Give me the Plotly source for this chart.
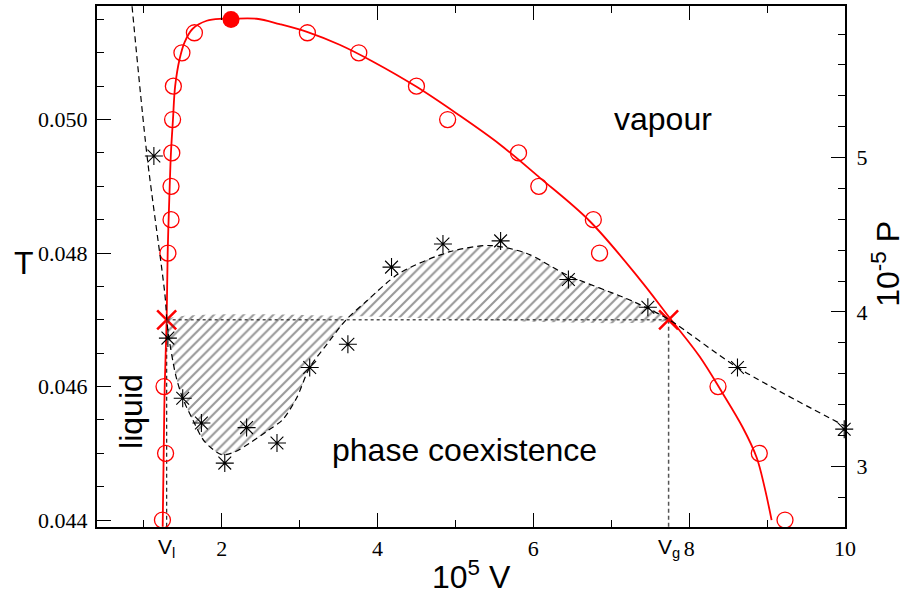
import plotly.graph_objects as go

# ---- data -------------------------------------------------------------
# simulated coexistence points (open circles): temperature levels and the
# liquid / vapour volumes found at each level
T_levels = [0.044, 0.045, 0.046, 0.048, 0.0485, 0.049, 0.0495, 0.050, 0.0505, 0.051, 0.0513]
V_liquid = [1.24, 1.28, 1.26, 1.31, 1.35, 1.35, 1.36, 1.37, 1.38, 1.49, 1.65]
V_vapour = [9.23, 8.90, 8.37, 6.85, 6.77, 6.07, 5.81, 4.90, 4.50, 3.76, 3.10]

# critical point
V_crit = [2.12]
T_crit = [0.0515]

# fitted coexistence curve (solid red line)
fit_V = [1.243, 1.256, 1.269, 1.294, 1.307, 1.333, 1.349, 1.375, 1.403, 1.461, 1.525,
         1.628, 1.808, 2.0, 2.115, 2.449, 2.744, 3.104, 3.514, 3.938, 4.502, 5.016,
         5.567, 6.081, 6.722, 7.364, 7.749, 8.134, 8.429, 8.686, 8.865, 8.968, 9.058]
fit_T = [0.0439, 0.0450, 0.0460, 0.0470, 0.0480, 0.0490, 0.0495, 0.0500, 0.0505, 0.05091, 0.05116,
         0.05136, 0.05148, 0.05151, 0.05151, 0.05151, 0.05143, 0.05131, 0.05112, 0.05087, 0.05049, 0.05009,
         0.04963, 0.04913, 0.04848, 0.04761, 0.04703, 0.04645, 0.04590, 0.04539, 0.04494, 0.04449, 0.04400]

# isotherm pressures (asterisks) on the 10^-5 P axis
iso_V = [1.13, 1.31, 1.50, 1.74, 2.04, 2.32, 2.71, 3.13, 3.62, 4.18, 4.84, 5.58, 6.45, 7.47, 8.62, 9.99]
iso_P = [5.01, 3.83, 3.44, 3.28, 3.02, 3.25, 3.15, 3.64, 3.79, 4.29, 4.44, 4.46, 4.21, 4.03, 3.64, 3.24]

# smooth isotherm (dashed black curve)
curve_V = [0.85, 1.04, 1.27, 1.31, 1.41, 1.50, 1.63, 1.78, 2.00, 2.18, 2.36, 2.59, 2.78, 2.96,
           3.13, 3.35, 3.60, 3.86, 4.28, 4.93, 5.44, 5.91, 6.43, 7.27, 7.74, 8.62, 10.0]
curve_P = [5.98, 5.02, 4.12, 3.88, 3.59, 3.44, 3.30, 3.16, 3.075, 3.095, 3.15, 3.23, 3.30, 3.44,
           3.64, 3.79, 3.95, 4.07, 4.25, 4.39, 4.43, 4.38, 4.24, 4.07, 3.95, 3.64, 3.26]

# coexistence state at the chosen temperature
V_l, V_g = 1.294, 7.736
T_coex = 0.047
P_coex = 3.95

# axis ranges and ticks
V_range = [0.4, 10.0]
T_range = [0.043896, 0.051701]
P_range = [2.606, 5.982]
V_ticks = [2, 4, 6, 8, 10]
T_ticks = [0.044, 0.046, 0.048, 0.050]
T_ticktext = ["0.044", "0.046", "0.048", "0.050"]
P_ticks = [3, 4, 5]

RED = "#ff0000"
SANS = "Liberation Sans"
SERIF = "Liberation Serif"

fig = go.Figure()

# hatched Maxwell-construction areas between the isotherm and the tie line
inner = [(v, p) for v, p in zip(curve_V, curve_P) if V_l < v < V_g]
poly_V = [V_l] + [v for v, _ in inner] + [V_g, V_l]
poly_P = [P_coex] + [p for _, p in inner] + [P_coex, P_coex]
fig.add_trace(go.Scatter(
    x=poly_V, y=poly_P, yaxis="y2", mode="lines", fill="toself",
    line=dict(width=0, color="rgba(0,0,0,0)", shape="spline", smoothing=0.8),
    fillcolor="rgba(0,0,0,0)",
    fillpattern=dict(shape="/", fgcolor="#333333", bgcolor="rgba(0,0,0,0)",
                     size=7, solidity=0.3),
    hoverinfo="skip"))

# dotted tie line
fig.add_trace(go.Scatter(
    x=[V_l, V_g], y=[T_coex, T_coex], mode="lines",
    line=dict(color="#555555", width=1.5, dash="dot")))

# vertical guides down to V_l and V_g
fig.add_trace(go.Scatter(
    x=[V_l, V_l], y=[T_coex, T_range[0]], mode="lines",
    line=dict(color="#222222", width=1.2, dash="4px,3px")))
fig.add_trace(go.Scatter(
    x=[V_g, V_g], y=[T_coex, T_range[0]], mode="lines",
    line=dict(color="#555555", width=1.5, dash="4px,3px")))

# isotherm curve
fig.add_trace(go.Scatter(
    x=curve_V, y=curve_P, yaxis="y2", mode="lines",
    line=dict(color="black", width=1.2, dash="6px,4px", shape="spline", smoothing=0.8)))

# coexistence fit
fig.add_trace(go.Scatter(
    x=fit_V, y=fit_T, mode="lines",
    line=dict(color=RED, width=1.8, shape="spline", smoothing=1.0)))

# simulated coexistence points
fig.add_trace(go.Scatter(
    x=V_liquid + V_vapour, y=T_levels + T_levels, mode="markers",
    marker=dict(symbol="circle-open", size=16, color=RED, line=dict(width=1.3, color=RED)),
    cliponaxis=False))

# isotherm pressures
fig.add_trace(go.Scatter(
    x=iso_V, y=iso_P, yaxis="y2", mode="markers",
    marker=dict(symbol="asterisk-open", size=15, color="black", line=dict(width=1.1, color="black")),
    cliponaxis=False))

# coexisting volumes at T_coex
fig.add_trace(go.Scatter(
    x=[V_l, V_g], y=[T_coex, T_coex], mode="markers",
    marker=dict(symbol="x-thin-open", size=19, color=RED, line=dict(width=2.5, color=RED)),
    cliponaxis=False))

# critical point
fig.add_trace(go.Scatter(
    x=V_crit, y=T_crit, mode="markers",
    marker=dict(symbol="circle", size=17, color=RED, line=dict(width=0)),
    cliponaxis=False))

axis_common = dict(
    showline=True, linewidth=2, linecolor="black", showgrid=False, zeroline=False,
    ticks="inside", ticklen=14, tickwidth=1.3, tickcolor="black",
    tickfont=dict(family=SERIF, size=22, color="black"),
)

fig.update_layout(
    width=909, height=600,
    margin=dict(l=97, r=64, t=4, b=73),
    paper_bgcolor="white", plot_bgcolor="white",
    showlegend=False,
    xaxis=dict(range=V_range, tickmode="array", tickvals=V_ticks, mirror="ticks",
               ticklabelstandoff=1,
               minor=dict(dtick=1, tick0=0, ticks="inside", ticklen=7, tickwidth=1.3, tickcolor="black"),
               **axis_common),
    yaxis=dict(range=T_range, tickmode="array", tickvals=T_ticks, ticktext=T_ticktext,
               ticklabelstandoff=3,
               minor=dict(dtick=0.0005, tick0=0.044, ticks="inside", ticklen=7, tickwidth=1.3, tickcolor="black"),
               **axis_common),
    yaxis2=dict(range=P_range, overlaying="y", side="right", tickmode="array", tickvals=P_ticks,
                ticklabelstandoff=5,
                minor=dict(dtick=0.2, tick0=3, ticks="inside", ticklen=7, tickwidth=1.3, tickcolor="black"),
                **axis_common),
)

big = dict(family=SANS, size=32, color="black")
annotations = [
    dict(text="T", x=-0.114, y=0.507, xref="paper", yref="paper", showarrow=False, font=big),
    dict(text="10<sup>-5</sup> P", x=1.084, y=0.505, xref="paper", yref="paper",
         showarrow=False, font=big, textangle=-90),
    dict(text="10<sup>5</sup> V", x=0.501, y=-0.135, xref="paper", yref="paper",
         showarrow=False, font=big),
    dict(text="vapour", x=7.66, y=0.05001, xref="x", yref="y", showarrow=False, font=big),
    dict(text="phase coexistence", x=5.12, y=0.04505, xref="x", yref="y", showarrow=False, font=big),
    dict(text="liquid", x=0.845, y=0.04563, xref="x", yref="y", showarrow=False, font=big,
         textangle=-90),
    dict(text="V<sub>l</sub>", x=V_l, y=-0.012, xref="x", yref="paper", yanchor="top",
         showarrow=False, font=dict(family=SANS, size=21, color="black")),
    dict(text="V<sub>g</sub>", x=V_g, y=-0.012, xref="x", yref="paper", yanchor="top",
         showarrow=False, font=dict(family=SANS, size=21, color="black")),
]
fig.update_layout(annotations=annotations)

fig.write_html("out.html")
